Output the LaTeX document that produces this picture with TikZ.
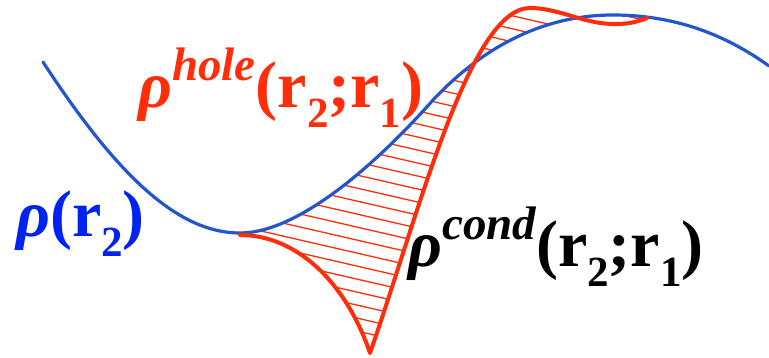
\documentclass[tikz,border=0pt]{standalone}
\usepackage{fontspec}
\setmainfont{Liberation Serif}
\definecolor{curveblue}{RGB}{35,85,205}
\definecolor{labelblue}{RGB}{0,35,240}
\definecolor{holered}{RGB}{255,45,10}
\newcommand{\lowsub}[1]{\raisebox{-20pt}{\fontsize{43}{43}\selectfont #1}}
\newcommand{\highsup}[1]{\raisebox{27pt}{\fontsize{47}{47}\selectfont\itshape #1}}
\begin{document}
\begin{tikzpicture}[x=1pt,y=-1pt,line cap=round,line join=round,
    lbl/.style={inner sep=0pt,anchor=base west,font=\fontsize{66}{66}\selectfont\bfseries}]
\useasboundingbox (0,0) rectangle (769,358);
\coordinate (bmin) at (240,233);
\coordinate (tip) at (370,353);
\coordinate (rpeak) at (530,8);
\coordinate (rend) at (647,18);
\def\redpath{(240,235) .. controls (295,235) and (345,280) .. (tip) .. controls (420,210) and (470,8) .. (rpeak) .. controls (560,8) and (585,25) .. (617,24) .. controls (632,24) and (642,20) .. (rend)}
% hatching between the two curves
\begin{scope}
\clip \redpath .. controls (635,16) and (625,15) .. (613,15) .. controls (540,15) and (480,50) .. (433,100) .. controls (380,160) and (300,233) .. (bmin) -- cycle;
\foreach \y in {-160,-147,...,370}{\draw[holered,line width=1.3pt] (200,\y) -- (700,\y+115);}
\end{scope}
% curves
\draw[curveblue,line width=3.2pt] (43,62) .. controls (120,180) and (180,233) .. (bmin) .. controls (300,233) and (380,160) .. (433,100) .. controls (480,50) and (540,15) .. (613,15) .. controls (680,15) and (730,38) .. (769,66);
\draw[holered,line width=4pt] \redpath;
% labels
\node[lbl,labelblue] (rho) at (16,237) {\itshape ρ\upshape(r\lowsub{2})};
\node[lbl,holered] (rhohole) at (138,108) {\itshape ρ\highsup{hole}\upshape(r\lowsub{2};r\lowsub{1})};
\node[lbl,black] (rhocond) at (408,267) {\itshape ρ\highsup{cond}\upshape(r\lowsub{2};r\lowsub{1})};
\end{tikzpicture}
\end{document}
